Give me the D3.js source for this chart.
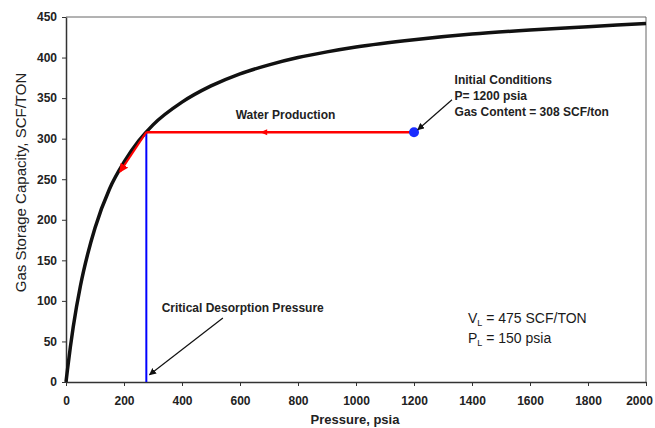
<!DOCTYPE html>
<html>
<head>
<meta charset="utf-8">
<script src="https://cdn.jsdelivr.net/npm/d3@7"></script>
<style>
  body { margin: 0; background: #fff; }
  text { font-family: "Liberation Sans", Arial, sans-serif; }
</style>
</head>
<body>
<div id="chart"></div>
<script>
// Langmuir isotherm (pressure psia, storage SCF/TON)
var pressure = [0, 5, 15, 25, 50, 75, 100, 150, 200, 250, 300, 400, 500, 600, 700, 800, 900, 1000, 1200, 1400, 1600, 1800, 2000];
var capacity = [0, 15, 43, 68, 119, 158, 190, 238, 271, 297, 317, 345, 365, 380, 391, 400, 407, 413, 422, 429, 434, 438, 442];
var xTicks = [0, 200, 400, 600, 800, 1000, 1200, 1400, 1600, 1800, 2000];
var yTicks = [0, 50, 100, 150, 200, 250, 300, 350, 400, 450];
var initialP = 1200, initialGas = 308;
var criticalP = 277;
var desorbEnd = [186, 259];

var margin = {top: 17, right: 9, bottom: 46, left: 66};
var w = 655, h = 428;
var width = w - margin.left - margin.right;
var height = h - margin.top - margin.bottom;

var svgRoot = d3.select("#chart")
  .append("svg")
    .attr("width", w)
    .attr("height", h);

var defs = svgRoot.append("defs");
defs.append("marker")
    .attr("id", "arrBlack")
    .attr("viewBox", "0 0 10 10")
    .attr("refX", 9).attr("refY", 5)
    .attr("markerWidth", 7).attr("markerHeight", 7)
    .attr("markerUnits", "userSpaceOnUse")
    .attr("orient", "auto")
  .append("path").attr("d", "M0,0L10,5L0,10z").attr("fill", "#111");
defs.append("marker")
    .attr("id", "arrRed")
    .attr("viewBox", "0 0 10 10")
    .attr("refX", 9).attr("refY", 5)
    .attr("markerWidth", 9).attr("markerHeight", 9)
    .attr("markerUnits", "userSpaceOnUse")
    .attr("orient", "auto")
  .append("path").attr("d", "M0,0L10,5L0,10z").attr("fill", "#ff0000");

var svg = svgRoot.append("g")
    .attr("transform", "translate(" + margin.left + "," + margin.top + ")");

var x = d3.scaleLinear().domain([0, 2000]).range([0, width]);
var y = d3.scaleLinear().domain([0, 450]).range([height, 0]);

// frame (top and right)
svg.append("path")
  .attr("d", "M0,0H" + width + "V" + height)
  .attr("fill", "none")
  .attr("stroke", "#666")
  .attr("stroke-width", 1);

// X axis
var xAxis = svg.append("g")
  .attr("transform", "translate(0," + height + ")")
  .call(d3.axisBottom(x).tickValues(xTicks).tickFormat(d3.format("d"))
    .tickSize(4).tickPadding(10).tickSizeOuter(0));
// Y axis
var yAxis = svg.append("g")
  .call(d3.axisLeft(y).tickValues(yTicks).tickFormat(d3.format("d"))
    .tickSize(4).tickPadding(5).tickSizeOuter(0));

[xAxis, yAxis].forEach(function(a) {
  a.select(".domain").attr("stroke", "#333").attr("stroke-width", 1.5);
  a.selectAll(".tick line").attr("stroke", "#333");
  a.selectAll("text")
    .attr("font-size", "12px")
    .attr("font-weight", 700)
    .attr("fill", "#222")
    .style("font-family", "Liberation Sans, Arial, sans-serif");
});
// keep the last x label inside the window
xAxis.selectAll(".tick text")
  .filter(function(d) { return d === 2000; })
  .attr("dx", -7);

// axis labels
svg.append("text")
  .attr("text-anchor", "middle")
  .attr("x", width / 2 - 1)
  .attr("y", height + 42)
  .attr("font-size", "13px")
  .attr("font-weight", 700)
  .attr("fill", "#222")
  .text("Pressure, psia");

svg.append("text")
  .attr("text-anchor", "middle")
  .attr("transform", "rotate(-90)")
  .attr("x", -height / 2 + 17)
  .attr("y", -40)
  .attr("font-size", "15px")
  .attr("fill", "#222")
  .text("Gas Storage Capacity, SCF/TON");

// isotherm
var pts = pressure.map(function(p, i) { return [p, capacity[i]]; });
svg.append("path")
  .datum(pts)
  .attr("fill", "none")
  .attr("stroke", "#111")
  .attr("stroke-width", 3.5)
  .attr("d", d3.line()
    .x(function(d) { return x(d[0]); })
    .y(function(d) { return y(d[1]); })
    .curve(d3.curveMonotoneX));

// blue critical pressure line
svg.append("line")
  .attr("x1", x(criticalP)).attr("x2", x(criticalP))
  .attr("y1", y(0)).attr("y2", y(initialGas))
  .attr("stroke", "#0000ff")
  .attr("stroke-width", 2);

// red water production line
svg.append("line")
  .attr("x1", x(initialP)).attr("x2", x(criticalP))
  .attr("y1", y(initialGas)).attr("y2", y(initialGas))
  .attr("stroke", "#ff0000")
  .attr("stroke-width", 2.5);
// small arrow tip on the red line
svg.append("path")
  .attr("d", "M" + (x(680) + 4) + "," + (y(initialGas) - 3) + "L" + (x(680) - 3) + "," + y(initialGas) + "L" + (x(680) + 4) + "," + (y(initialGas) + 3) + "z")
  .attr("fill", "#ff0000");

// red desorption arrow
svg.append("line")
  .attr("x1", x(criticalP)).attr("y1", y(initialGas))
  .attr("x2", x(desorbEnd[0])).attr("y2", y(desorbEnd[1]))
  .attr("stroke", "#ff0000")
  .attr("stroke-width", 2)
  .attr("marker-end", "url(#arrRed)");

// initial condition point
svg.append("circle")
  .attr("cx", x(initialP)).attr("cy", y(initialGas))
  .attr("r", 5)
  .attr("fill", "#1a2cff");

// annotations
function label(t, px, py, anchor) {
  return svg.append("text")
    .attr("x", px).attr("y", py)
    .attr("text-anchor", anchor || "start")
    .attr("font-size", "12px")
    .attr("font-weight", 700)
    .attr("fill", "#222")
    .text(t);
}
label("Water Production", x(757), y(324), "middle");
label("Initial Conditions", x(1340), y(368));
label("P= " + initialP + " psia", x(1340), y(348));
label("Gas Content = " + initialGas + " SCF/ton", x(1340), y(328));
label("Critical Desorption Pressure", x(330), y(86));

svg.append("line")
  .attr("x1", x(1331)).attr("y1", y(348))
  .attr("x2", x(1213)).attr("y2", y(311))
  .attr("stroke", "#111").attr("stroke-width", 1.2)
  .attr("marker-end", "url(#arrBlack)");
svg.append("line")
  .attr("x1", x(541)).attr("y1", y(79))
  .attr("x2", x(288)).attr("y2", y(9))
  .attr("stroke", "#111").attr("stroke-width", 1.2)
  .attr("marker-end", "url(#arrBlack)");

// Langmuir constants
var lt = svg.append("text").attr("x", x(1386)).attr("y", y(73))
  .attr("font-size", "14px").attr("font-weight", 500).attr("fill", "#1a1a1a");
lt.append("tspan").text("V");
lt.append("tspan").attr("font-size", "9px").attr("dy", 3).text("L");
lt.append("tspan").attr("dy", -3).text(" = 475 SCF/TON");
var pt = svg.append("text").attr("x", x(1386)).attr("y", y(48))
  .attr("font-size", "14px").attr("font-weight", 500).attr("fill", "#1a1a1a");
pt.append("tspan").text("P");
pt.append("tspan").attr("font-size", "9px").attr("dy", 3).text("L");
pt.append("tspan").attr("dy", -3).text(" = 150 psia");
</script>
</body>
</html>
